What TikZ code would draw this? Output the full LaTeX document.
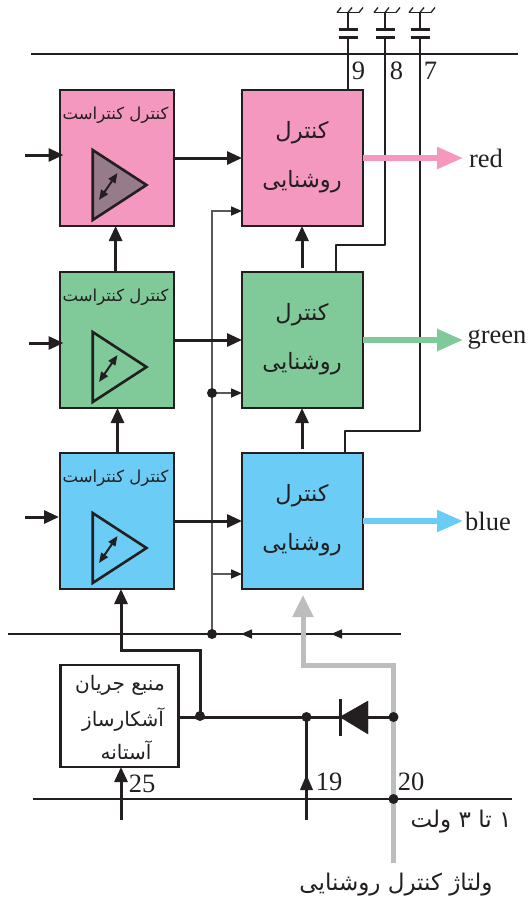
\documentclass[tikz,border=0pt]{standalone}
\usepackage{fontspec}
\usetikzlibrary{arrows.meta,calc}
\setmainfont{Liberation Serif}
\newfontfamily\farsi[Script=Arabic]{DejaVu Sans}
\TeXXeTstate=1
\definecolor{pk}{HTML}{F598C0}
\definecolor{gn}{HTML}{80CA9A}
\definecolor{bl}{HTML}{6BCDF6}
\definecolor{ink}{HTML}{231F20}
\definecolor{tl}{HTML}{58595B}
\definecolor{gy}{HTML}{BBBDBF}
\definecolor{mv}{HTML}{967B8A}
\tikzset{
  ctl/.style={draw=ink,line width=2.6pt,minimum width=114pt,minimum height=136pt,inner sep=0pt,outer sep=0pt},
  lum/.style={draw=ink,line width=2.6pt,minimum width=121pt,minimum height=136pt,inner sep=0pt,outer sep=0pt},
  src/.style={draw=ink,line width=2.6pt,fill=white,minimum width=117.5pt,minimum height=102pt,inner sep=0pt,outer sep=0pt},
  thick line/.style={draw=ink,line width=3pt,line join=miter},
  thick arrow/.style={thick line,-{Triangle[length=15pt,width=13pt]}},
  thin line/.style={draw=tl,line width=1.7pt},
  thin arrow/.style={thin line,-{Triangle[length=11pt,width=9pt,color=ink]}},
  hair/.style={draw=ink,line width=1.5pt},
  rail/.style={draw=ink,line width=2.4pt},
  dot/.style={circle,fill=ink,minimum size=10pt,inner sep=0pt,outer sep=0pt},
  lab/.style={font=\fontsize{26.5}{26.5}\selectfont,inner sep=0pt,text=ink},
  fa/.style={inner sep=0pt,text=ink,align=center},
  amp/.style={draw=ink,line width=2.6pt,line join=miter},
  dbl/.style={draw=ink,line width=2pt,{Triangle[length=10pt,width=8pt]}-{Triangle[length=10pt,width=8pt]}},
  pin/.style={draw=ink,line width=2.5pt},
  plate/.style={draw=ink,line width=2.6pt},
  earth/.style={draw=ink,line width=1.3pt},
  outpk/.style={draw=pk,line width=5.5pt,-{Triangle[length=26pt,width=21pt]}},
  outgn/.style={draw=gn,line width=5.5pt,-{Triangle[length=26pt,width=21pt]}},
  outbl/.style={draw=bl,line width=5.5pt,-{Triangle[length=26pt,width=21pt]}},
}
\newcommand{\ctltext}{\fontsize{16.5}{16.5}\farsi\beginR کنترل کنتراست\endR}
\newcommand{\lumtextA}{\fontsize{22.5}{22.5}\farsi\beginR کنترل\endR}
\newcommand{\lumtextB}{\fontsize{22.5}{22.5}\farsi\beginR روشنایی\endR}
\begin{document}
\begin{tikzpicture}[x=1pt,y=-1pt]
\useasboundingbox (0,0) rectangle (528,903);
% rails
\coordinate (tl) at (31,54); \coordinate (tr) at (518,54);
\coordinate (bl) at (33,799); \coordinate (br) at (512,799);
\coordinate (ml) at (8,634); \coordinate (mr) at (401,634);
\draw[rail] (tl) -- (tr);
\draw[rail] (bl) -- (br);
\draw[hair] (ml) -- (mr);
% boxes
\node[ctl,fill=pk] (c1) at (117,158) {};
\node[ctl,fill=gn] (c2) at (117,340) {};
\node[ctl,fill=bl] (c3) at (117,521) {};
\node[lum,fill=pk] (l1) at (302.5,158) {};
\node[lum,fill=gn] (l2) at (302.5,340) {};
\node[lum,fill=bl] (l3) at (302.5,521) {};
\node[src] (s) at (119.5,716) {};
% box texts
\node[fa] (t1) at (115.5,115) {\ctltext};
\node[fa] (t2) at (115.5,297) {\ctltext};
\node[fa] (t3) at (115.5,478) {\ctltext};
\foreach \b/\y in {1/158,2/340,3/521}{
  \node[fa] (la\b) at (302,\y-25) {\lumtextA};
  \node[fa] (lb\b) at (302,\y+24) {\lumtextB};
}
\node[fa] (s1) at (120,685) {\fontsize{20}{20}\farsi\beginR منبع جریان\endR};
\node[fa] (s2) at (123,720) {\fontsize{20}{20}\farsi\beginR آشکارساز\endR};
\node[fa] (s3) at (126,750) {\fontsize{20}{20}\farsi\beginR آستانه\endR};
% amplifiers
\foreach \y/\f in {150/mv,332/gn,513/bl}{
  \draw[amp,fill=\f] (92.7,\y) -- (92.7,\y+70) -- (146.5,\y+35) -- cycle;
  \draw[dbl] (99,\y+50) -- (117.5,\y+23);
}
% inputs
\coordinate (i1) at (25,155); \coordinate (i1e) at (63.5,155);
\coordinate (i2) at (29,343); \coordinate (i2e) at (63.5,343);
\coordinate (i3) at (25,517); \coordinate (i3e) at (59,517);
\draw[thick arrow] (i1) -- (i1e);
\draw[thick arrow] (i2) -- (i2e);
\draw[thick arrow] (i3) -- (i3e);
% thin bus
\coordinate (d0c) at (212,634);
\coordinate (d1c) at (212,393);
\coordinate (b3) at (212,574);
\draw[thin arrow] (d0c) |- (l1.west |- 0,211);
\draw[thin arrow] (d1c) -- (l2.west |- d1c);
\draw[thin arrow] (b3) -- (l3.west |- b3);
% horizontal c -> l
\draw[thick arrow] (c1.east) -- (l1.west);
\draw[thick arrow] (c2.east) -- (l2.west);
\draw[thick arrow] (c3.east) -- (l3.west);
% vertical chains
\draw[thick arrow] (c2.north -| 115.6,0) -- (c1.south -| 115.6,0);
\draw[thick arrow] (c3.north -| 117.5,0) -- (c2.south -| 117.5,0);
\coordinate (u1) at (302,268); \coordinate (u1e) at (302,226);
\coordinate (u2) at (302,449); \coordinate (u2e) at (302,408);
\draw[thick arrow] (u1) -- (u1e);
\draw[thick arrow] (u2) -- (u2e);
% arrows on middle rail
\coordinate (m1) at (253,634); \coordinate (m1e) at (241,634);
\coordinate (m2) at (344,634); \coordinate (m2e) at (331,634);
\draw[hair,-{Triangle[length=11pt,width=9pt]}] (m1) -- (m1e);
\draw[hair,-{Triangle[length=11pt,width=9pt]}] (m2) -- (m2e);
% gray control line
\coordinate (g0) at (393.5,863);
\coordinate (g1) at (303,665);
\draw[gy,line width=5pt,line join=miter,-{Triangle[length=22pt,width=20pt]}] (g0) |- (g1) -- (303,595);
% source output
\coordinate (d2c) at (200,716);
\coordinate (d3c) at (306.5,717);
\coordinate (d4c) at (393.5,717);
\coordinate (an) at (340,717);
\draw[thick arrow] (d2c) -- (200,650) -| (c3.south -| 121,0);
\draw[thick line] (s.east |- d3c) -- (d3c);
\draw[thick line] (d3c) -- (an);
\draw[thick line] (an) -- (d4c);
\draw[ink,fill=ink] (340,717) -- (368,701) -- (368,734) -- cycle;
\draw[ink,line width=2.6pt] (340.5,699) -- (340.5,736);
% pins at bottom
\coordinate (p25) at (121,820);
\coordinate (p19) at (306.5,820);
\draw[thick arrow] (p25) -- (s.south -| p25);
\draw[pin] (p19) -- (d3c);
\coordinate (ah) at (306.5,790);
\coordinate (ahe) at (306.5,775);
\draw[line width=0.1pt,-{Triangle[length=15pt,width=13pt,color=ink]}] (ah) -- (ahe);
% junction dots
\node[dot] (d0) at (d0c) {};
\node[dot] (d1) at (d1c) {};
\node[dot] (d2) at (d2c) {};
\node[dot] (d3) at (d3c) {};
\node[dot] (d4) at (d4c) {};
\node[dot] (d5) at (393.5,799) {};
% pin labels
\node[lab] (n25) at (142,784) {25};
\node[lab] (n19) at (329,782) {19};
\node[lab] (n20) at (411,782) {20};
\node[lab] (n9) at (358.5,71) {9};
\node[lab] (n8) at (396.5,71) {8};
\node[lab] (n7) at (430.5,71) {7};
% output labels
\foreach \b/\y/\txt/\nx in {1/158/red/486,2/340/green/497,3/521/blue/488}{
  \coordinate (o\b) at (463,\y);
  \node[lab,anchor=center] (ol\b) at (\nx,\y) {\txt};
}
% capacitors and pins
\foreach \x/\n in {348/9,385/8,420/7}{
  \coordinate (gnd\n) at (\x,12);
  \coordinate (pa\n) at (\x,29.5);
  \coordinate (pb\n) at (\x,37.5);
  \draw[pin] (gnd\n) -- (pa\n);
  \draw[plate] (\x-9.5,29.5) -- (\x+9.5,29.5);
  \draw[plate] (\x-9.5,37.5) -- (\x+9.5,37.5);
  \draw[earth] (\x-11,12.5) -- (\x+11,12.5);
  \draw[earth] (\x-11,12.5) -- (\x-7,7.5);
  \draw[earth] (\x,12.5) -- (\x+4,7.5);
  \draw[earth] (\x+11,12.5) -- (\x+15,7.5);
}
\draw[pin] (pb9) -- (l1.north -| pb9);
\draw[pin,line join=round] (pb8) -- (385,245) -| (336,272);
\draw[pin,line join=round] (pb7) -- (420,431) -| (345,453);
\draw[outpk] (l1.east) -- (o1);
\draw[outgn] (l2.east) -- (o2);
\draw[outbl] (l3.east) -- (o3);
% bottom texts
\node[fa] (v1) at (461,822) {\fontsize{23}{23}\farsi\beginR ۱ تا ۳ ولت\endR};
\node[fa] (v2) at (396,885) {\fontsize{23}{23}\farsi\beginR ولتاژ کنترل روشنایی\endR};
\end{tikzpicture}
\end{document}
